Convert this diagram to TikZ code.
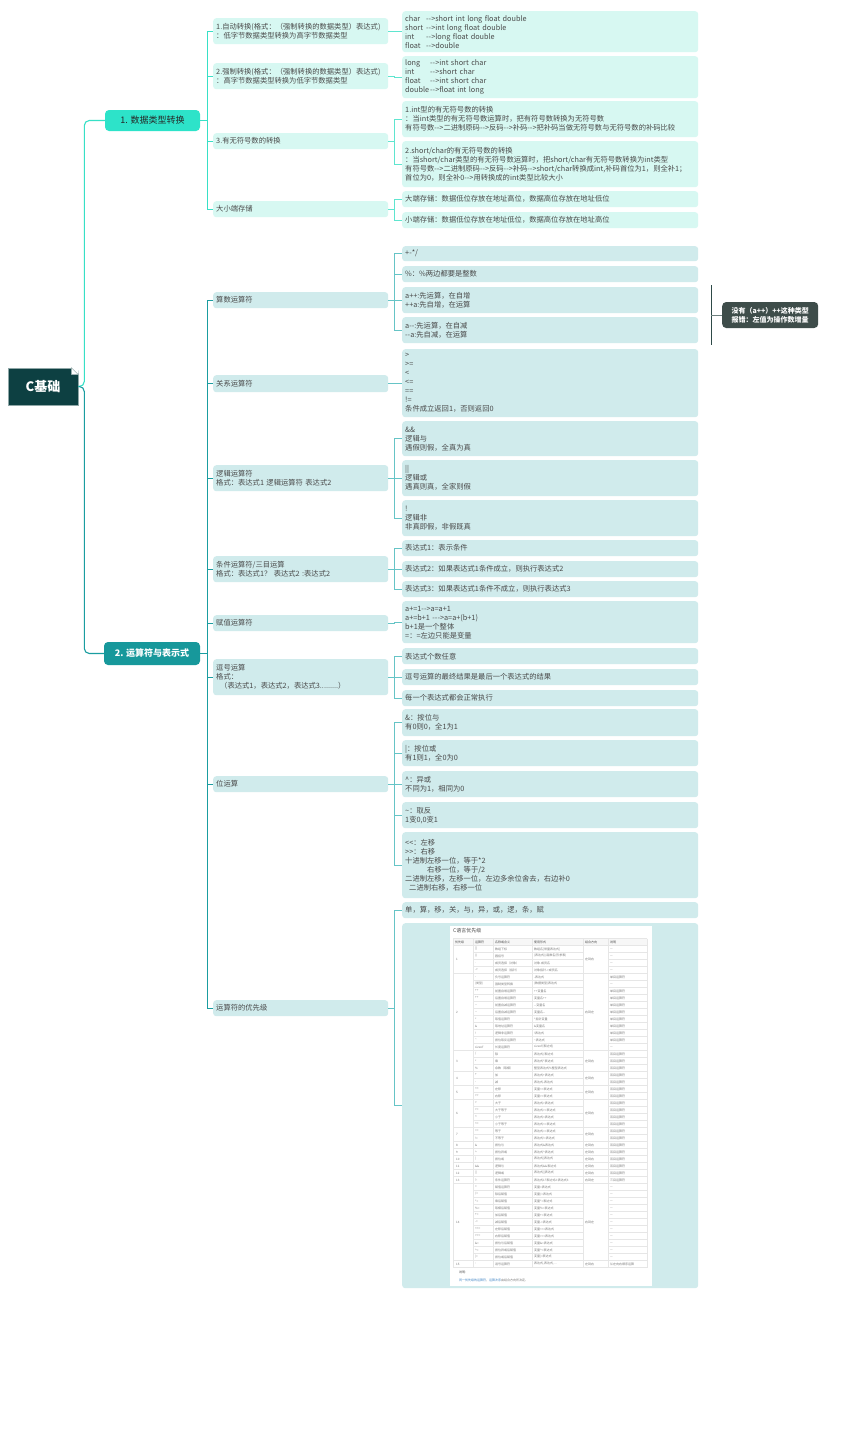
\documentclass[tikz,border=0pt]{standalone}
\usepackage{fontspec}
\usepackage{xcolor}
\newfontfamily\cnfont{Noto Sans CJK SC}
\definecolor{ink}{HTML}{4A4A4A}
\definecolor{rootc}{HTML}{0D4042}
\definecolor{rootb}{HTML}{8FA7A7}
\definecolor{turqfill}{HTML}{2DE3C9}
\definecolor{tealfill}{HTML}{17989B}
\definecolor{turq}{HTML}{37E0C6}
\definecolor{tealtwo}{HTML}{1A9DA0}
\definecolor{turql}{HTML}{5FE5CF}
\definecolor{teall}{HTML}{66C4C6}
\definecolor{mint}{HTML}{D7F8F2}
\definecolor{aqua}{HTML}{D0EBEC}
\definecolor{notec}{HTML}{3E4D4A}
\definecolor{sumc}{HTML}{2E4A48}
\definecolor{cellgray}{HTML}{7A7A7A}
\definecolor{gridgray}{HTML}{E6E6E6}
\definecolor{headgray}{HTML}{F7F7F7}
\definecolor{linkblue}{HTML}{3B82C4}

\begin{document}
\begin{tikzpicture}[x=1pt,y=-1pt,
    txt/.style={font=\cnfont\fontsize{7.3}{9}\selectfont,text=ink},
    box/.style={txt,anchor=north west,align=left,rounded corners=3pt,inner xsep=3pt,inner ysep=0pt},
    subA/.style={box,fill=mint,text width=169pt},
    leafA/.style={box,fill=mint,text width=290pt},
    subB/.style={box,fill=aqua,text width=169pt},
    leafB/.style={box,fill=aqua,text width=290pt},
    br1/.style={draw=turq,line width=1.1pt},
    br2/.style={draw=tealtwo,line width=1.1pt},
    lk1/.style={draw=turql,line width=0.8pt},
    lk2/.style={draw=teall,line width=0.8pt},
    cell/.style={font=\cnfont\fontsize{3}{3.5}\selectfont,text=cellgray,anchor=west,inner sep=0pt},
    grid/.style={draw=gridgray,line width=0.3pt}]
        \fill[white] (0,0) rectangle (842,1444);
        \useasboundingbox (0,0) rectangle (842,1444);
        % root and the two main topics
        \node[font=\cnfont\bfseries\fontsize{13}{13}\selectfont,text=white,fill=rootc,draw=rootb,line width=0.6pt,minimum width=70pt,minimum height=37pt,inner sep=0pt] (root) at (43,386.5) {C基础};
        \fill[white] ([xshift=-7pt]root.north east) -- ([xshift=0.8pt,yshift=0.8pt]root.north east) -- ([yshift=-7pt]root.north east) -- cycle;
        \filldraw[fill=white,draw=rootb,line width=0.4pt] ([xshift=-7pt]root.north east) -- ([xshift=-7pt,yshift=-7pt]root.north east) -- ([yshift=-7pt]root.north east) -- cycle;
        \node[font=\cnfont\fontsize{9}{9}\selectfont,text=black!85,fill=turqfill,rounded corners=4pt,minimum width=95pt,minimum height=21pt,inner sep=0pt] (N1) at (152.5,120.5) {1. 数据类型转换};
        \node[font=\cnfont\bfseries\fontsize{9}{9}\selectfont,text=white,fill=tealfill,rounded corners=4pt,minimum width=96pt,minimum height=23pt,inner sep=0pt] (N2) at (152,653.5) {2. 运算符与表示式};
        \draw[br1,rounded corners=5pt] (root.east) -- ++(6,0) |- (N1.west);
        \draw[br2,rounded corners=5pt] (root.east) -- ++(6,0) |- (N2.west);
        % branch 1
        \node[subA,minimum height=26pt] (S11) at (213,18) {1.自动转换(格式：（强制转换的数据类型）表达式)\\：低字节数据类型转换为高字节数据类型};
        \node[subA,minimum height=26pt] (S12) at (213,63) {2.强制转换(格式：（强制转换的数据类型）表达式)\\：高字节数据类型转换为低字节数据类型};
        \node[subA,minimum height=16pt] (S13) at (213,133) {3.有无符号数的转换};
        \node[subA,minimum height=16pt] (S14) at (213,201) {大小端存储};
        \foreach \s in {S11,S12,S13,S14}{\draw[br1] (N1.east) -- ++(7,0) |- (\s.west);}
        \node[leafA,minimum height=41pt] (L11) at (402,11) {\makebox[21pt][l]{char}-->short int long float double\\\makebox[21pt][l]{short}-->int long float double\\\makebox[21pt][l]{int}-->long float double\\\makebox[21pt][l]{float}-->double};
        \node[leafA,minimum height=42pt] (L12) at (402,56) {\makebox[25pt][l]{long}-->int short char\\\makebox[25pt][l]{int}-->short char\\\makebox[25pt][l]{float}-->int short char\\\makebox[25pt][l]{double}-->float int long};
        \node[leafA,minimum height=36pt] (L13) at (402,101) {1.int型的有无符号数的转换\\：当int类型的有无符号数运算时，把有符号数转换为无符号数\\有符号数-->二进制原码-->反码-->补码-->把补码当做无符号数与无符号数的补码比较};
        \node[leafA,minimum height=46pt] (L14) at (402,141) {2.short/char的有无符号数的转换\\：当short/char类型的有无符号数运算时，把short/char有无符号数转换为int类型\\有符号数-->二进制原码-->反码-->补码-->short/char转换成int,补码首位为1，则全补1；\\首位为0，则全补0-->用转换成的int类型比较大小};
        \node[leafA,minimum height=16pt] (L15) at (402,191) {大端存储：数据低位存放在地址高位，数据高位存放在地址低位};
        \node[leafA,minimum height=16pt] (L16) at (402,212) {小端存储：数据低位存放在地址低位，数据高位存放在地址高位};
        \draw[lk1] (S11.east) -- ++(6,0) |- (L11.west);
        \draw[lk1] (S12.east) -- ++(6,0) |- (L12.west);
        \foreach \l in {L13,L14}{\draw[lk1] (S13.east) -- ++(6,0) |- (\l.west);}
        \foreach \l in {L15,L16}{\draw[lk1] (S14.east) -- ++(6,0) |- (\l.west);}
        % branch 2
        \node[subB,minimum height=16pt] (S21) at (213,292) {算数运算符};
        \node[subB,minimum height=17pt] (S22) at (213,375) {关系运算符};
        \node[subB,minimum height=26pt] (S23) at (213,465) {逻辑运算符\\格式：表达式1 逻辑运算符 表达式2};
        \node[subB,minimum height=26pt] (S24) at (213,556) {条件运算符/三目运算\\格式：表达式1？ 表达式2 :表达式2};
        \node[subB,minimum height=16pt] (S25) at (213,615) {赋值运算符};
        \node[subB,minimum height=36pt] (S26) at (213,659) {逗号运算\\格式：\\\hspace*{4pt}（表达式1，表达式2，表达式3.........）};
        \node[subB,minimum height=16pt] (S27) at (213,776) {位运算};
        \node[subB,minimum height=16pt] (S28) at (213,1000) {运算符的优先级};
        \foreach \s in {S21,S22,S23,S24,S25,S26,S27,S28}{\draw[br2] (N2.east) -- ++(7,0) |- (\s.west);}
        \node[leafB,minimum height=15pt] (A1) at (402,246) {+-*/};
        \node[leafB,minimum height=16pt] (A2) at (402,266) {\%：\%两边都要是整数};
        \node[leafB,minimum height=26pt] (A3) at (402,287) {a++:先运算，在自增\\++a:先自增，在运算};
        \node[leafB,minimum height=26pt] (A4) at (402,317) {a--:先运算，在自减\\--a:先自减，在运算};
        \node[leafB,minimum height=68pt] (B1) at (402,349) {>\\>=\\<\\<=\\==\\!=\\条件成立返回1，否则返回0};
        \node[leafB,minimum height=35pt] (C1) at (402,421) {\&\&\\逻辑与\\遇假则假，全真为真};
        \node[leafB,minimum height=36pt] (C2) at (402,460) {||\\逻辑或\\遇真则真，全家则假};
        \node[leafB,minimum height=36pt] (C3) at (402,500) {!\\逻辑非\\非真即假，非假既真};
        \node[leafB,minimum height=16pt] (D1) at (402,540) {表达式1：表示条件};
        \node[leafB,minimum height=16pt] (D2) at (402,561) {表达式2：如果表达式1条件成立，则执行表达式2};
        \node[leafB,minimum height=16pt] (D3) at (402,581) {表达式3：如果表达式1条件不成立，则执行表达式3};
        \node[leafB,minimum height=42pt] (E1) at (402,601) {a+=1-->a=a+1\\a+=b+1 --->a=a+(b+1)\\b+1是一个整体\\=：=左边只能是变量};
        \node[leafB,minimum height=16pt] (F1) at (402,648) {表达式个数任意};
        \node[leafB,minimum height=16pt] (F2) at (402,669) {逗号运算的最终结果是最后一个表达式的结果};
        \node[leafB,minimum height=16pt] (F3) at (402,690) {每一个表达式都会正常执行};
        \node[leafB,minimum height=27pt] (G1) at (402,709) {\&：按位与\\有0则0，全1为1};
        \node[leafB,minimum height=26pt] (G2) at (402,740) {|：按位或\\有1则1，全0为0};
        \node[leafB,minimum height=26pt] (G3) at (402,771) {\textasciicircum：异或\\不同为1，相同为0};
        \node[leafB,minimum height=26pt] (G4) at (402,802) {\textasciitilde：取反\\1变0,0变1};
        \node[leafB,minimum height=66pt] (G5) at (402,832) {<<：左移\\>>：右移\\十进制左移一位，等于*2\\\hspace*{22pt}右移一位，等于/2\\二进制左移，左移一位，左边多余位舍去，右边补0\\\hspace*{4pt}二进制右移，右移一位};
        \node[leafB,minimum height=16pt] (H1) at (402,902) {单，算，移，关，与，异，或，逻，条，赋};
        \node[leafB,minimum height=365pt] (H2) at (402,923) {};
        \foreach \l in {A1,A2,A3,A4}{\draw[lk2] (S21.east) -- ++(6,0) |- (\l.west);}
        \draw[lk2] (S22.east) -- ++(6,0) |- (B1.west);
        \foreach \l in {C1,C2,C3}{\draw[lk2] (S23.east) -- ++(6,0) |- (\l.west);}
        \foreach \l in {D1,D2,D3}{\draw[lk2] (S24.east) -- ++(6,0) |- (\l.west);}
        \draw[lk2] (S25.east) -- ++(6,0) |- (E1.west);
        \foreach \l in {F1,F2,F3}{\draw[lk2] (S26.east) -- ++(6,0) |- (\l.west);}
        \foreach \l in {G1,G2,G3,G4,G5}{\draw[lk2] (S27.east) -- ++(6,0) |- (\l.west);}
        \foreach \l in {H1,H2}{\draw[lk2] (S28.east) -- ++(6,0) |- (\l.west);}
        % summary on a++ / a--
        \node[font=\cnfont\bfseries\fontsize{7}{9}\selectfont,text=white,fill=notec,rounded corners=4pt,align=center,anchor=west,minimum width=96pt,minimum height=26pt,inner sep=2pt] (note) at (722,315) {没有（a++）++这种类型\\报错：左值为操作数增量};
        \coordinate (sumT) at (711,285);
        \coordinate (sumB) at (711,345);
        \draw[sumc,line width=0.9pt] (sumT) -- (sumB);
        \draw[sumc!70,line width=0.7pt] (sumT |- note.west) -- (note.west);
        % precedence table picture
        \fill[white] (450,926) rectangle (652,1286);
        \node[anchor=west,inner sep=0pt,font=\cnfont\fontsize{5}{6}\selectfont,text=ink] (ttl) at (453,931) {C语言优先级};
        \fill[headgray] (453,938.5) rectangle (647,945.5);
        \foreach \k in {0,...,46}{\draw[grid] (473,{945.5+7*\k}) -- (583,{945.5+7*\k}) (608,{945.5+7*\k}) -- (647,{945.5+7*\k});}
        \foreach \k in {0,4,15,18,20,22,26,28,29,30,31,32,33,34,45,46}{\draw[grid] (453,{945.5+7*\k}) -- (647,{945.5+7*\k});}
        \draw[grid] (453,938.5) -- (647,938.5);
        \foreach \cx in {453,473,493,532,583,608,647}{\draw[grid] (\cx,938.5) -- (\cx,1267.5);}
        \foreach \cx/\h [count=\j] in {455/优先级,475/运算符,495/名称或含义,534/使用形式,585/结合方向,610/说明}{
          \node[cell,text=ink] (hd\j) at (\cx,942) {\h};}
        \foreach \g/\r/\dir in {1/1.5/左到右,2/9/右到左,3/16/左到右,4/18.5/左到右,5/20.5/左到右,6/23.5/左到右,7/26.5/左到右,8/28/左到右,9/29/左到右,10/30/左到右,11/31/左到右,12/32/左到右,13/33/右到左,14/39/右到左,15/45/左到右}{
          \node[cell] (pr\g) at (456,{949+7*\r}) {\g};
          \node[cell] (dr\g) at (585,{949+7*\r}) {\dir};}
        \foreach \i/\op/\nm/\us/\nt in {0/{[]}/数组下标/{数组名[常量表达式]}/—,1/{()}/圆括号/{(表达式)/函数名(形参表)}/—,2/{.}/{成员选择（对象）}/{对象.成员名}/—,3/{->}/{成员选择（指针）}/{对象指针->成员名}/—,
            4/{-}/负号运算符/{-表达式}/单目运算符,5/{(类型)}/强制类型转换/{(数据类型)表达式}/—,6/{++}/前置自增运算符/{++变量名}/单目运算符,7/{++}/后置自增运算符/{变量名++}/单目运算符,
            8/{--}/前置自减运算符/{--变量名}/单目运算符,9/{--}/后置自减运算符/{变量名--}/单目运算符,10/{*}/取值运算符/{*指针变量}/单目运算符,11/{\&}/取地址运算符/{\&变量名}/单目运算符,
            12/{!}/逻辑非运算符/{!表达式}/单目运算符,13/{\textasciitilde}/按位取反运算符/{\textasciitilde 表达式}/单目运算符,14/{sizeof}/长度运算符/{sizeof(表达式)}/—,
            15/{/}/除/{表达式/表达式}/双目运算符,16/{*}/乘/{表达式*表达式}/双目运算符,17/{\%}/{余数（取模）}/{整型表达式\%整型表达式}/双目运算符,
            18/{+}/加/{表达式+表达式}/双目运算符,19/{-}/减/{表达式-表达式}/双目运算符,20/{<<}/左移/{变量<<表达式}/双目运算符,21/{>>}/右移/{变量>>表达式}/双目运算符,
            22/{>}/大于/{表达式>表达式}/双目运算符,23/{>=}/大于等于/{表达式>=表达式}/双目运算符,24/{<}/小于/{表达式<表达式}/双目运算符,25/{<=}/小于等于/{表达式<=表达式}/双目运算符,
            26/{==}/等于/{表达式==表达式}/双目运算符,27/{!=}/不等于/{表达式!=表达式}/双目运算符,28/{\&}/按位与/{表达式\&表达式}/双目运算符,
            29/{\textasciicircum}/按位异或/{表达式\textasciicircum 表达式}/双目运算符,30/{|}/按位或/{表达式|表达式}/双目运算符,31/{\&\&}/逻辑与/{表达式\&\&表达式}/双目运算符,
            32/{||}/逻辑或/{表达式||表达式}/双目运算符,33/{?:}/条件运算符/{表达式1?表达式2:表达式3}/三目运算符,
            34/{=}/赋值运算符/{变量=表达式}/—,35/{/=}/除后赋值/{变量/=表达式}/—,36/{*=}/乘后赋值/{变量*=表达式}/—,37/{\%=}/取模后赋值/{变量\%=表达式}/—,
            38/{+=}/加后赋值/{变量+=表达式}/—,39/{-=}/减后赋值/{变量-=表达式}/—,40/{<<=}/左移后赋值/{变量<<=表达式}/—,41/{>>=}/右移后赋值/{变量>>=表达式}/—,
            42/{\&=}/按位与后赋值/{变量\&=表达式}/—,43/{\textasciicircum=}/按位异或后赋值/{变量\textasciicircum=表达式}/—,44/{|=}/按位或后赋值/{变量|=表达式}/—,
            45/{,}/逗号运算符/{表达式,表达式,…}/从左向右顺序运算}{
          \node[cell] (op\i) at (475,{949+7*\i}) {\op};
          \node[cell] (nm\i) at (495,{949+7*\i}) {\nm};
          \node[cell] (us\i) at (534,{949+7*\i}) {\us};
          \node[cell] (nt\i) at (610,{949+7*\i}) {\nt};}
        \node[cell,text=ink] (tnote) at (459,1272) {说明:};
        \node[cell] (tlink) at (459,1280) {{\color{linkblue}同一优先级的运算符}，{\color{linkblue}运算次序}由结合方向所决定。};
      \end{tikzpicture}
\end{document}
